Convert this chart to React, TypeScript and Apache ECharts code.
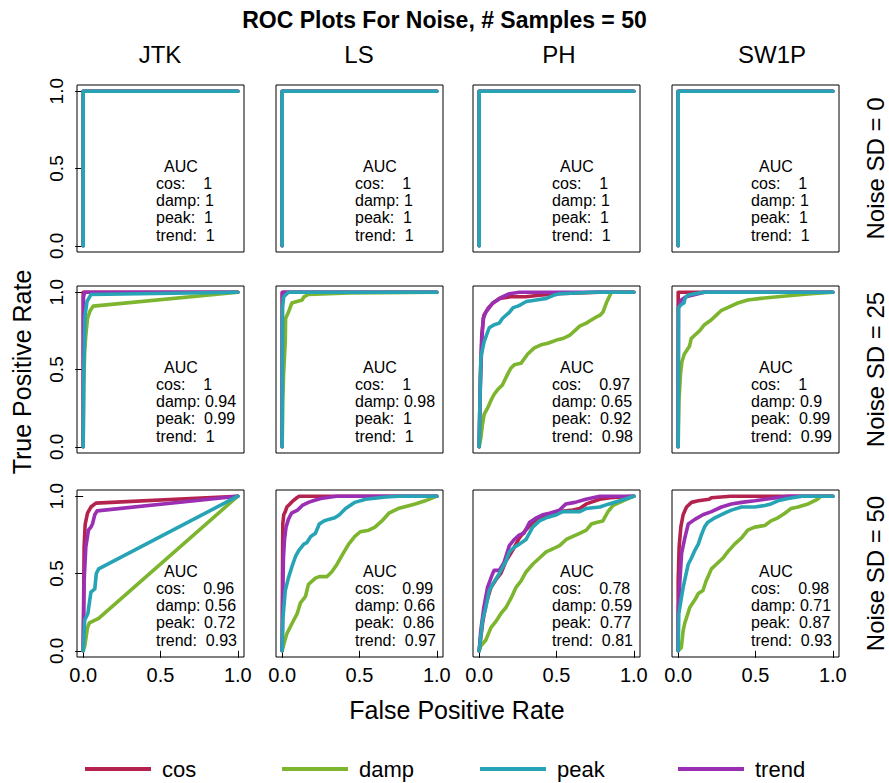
import React, { useEffect, useRef } from "react";
import * as echarts from "echarts";

// ---------- categories / labels ----------
const METHODS = ["JTK", "LS", "PH", "SW1P"];
const NOISE_SD = [0, 25, 50];
const CURVE_NAMES = ["cos", "damp", "peak", "trend"];
const TICK_VALUES = [0, 0.5, 1];

// ---------- AUC values: [method][cos, damp, peak, trend] ----------
const AUC_SD0 = [
  [1, 1, 1, 1],
  [1, 1, 1, 1],
  [1, 1, 1, 1],
  [1, 1, 1, 1],
];
const AUC_SD25 = [
  [1, 0.94, 0.99, 1],
  [1, 0.98, 1, 1],
  [0.97, 0.65, 0.92, 0.98],
  [1, 0.9, 0.99, 0.99],
];
const AUC_SD50 = [
  [0.96, 0.56, 0.72, 0.93],
  [0.99, 0.66, 0.86, 0.97],
  [0.78, 0.59, 0.77, 0.81],
  [0.98, 0.71, 0.87, 0.93],
];

// ---------- ROC curves [FPR, TPR] ----------
const PERFECT_ROC = [[0, 0], [0, 1], [1, 1]];

// Noise SD = 25
const JTK25_COS = [[0, 0], [0, 1], [1, 1]];
const JTK25_DAMP = [[0, 0], [0.003, 0.4], [0.01, 0.62], [0.017, 0.72], [0.028, 0.83], [0.045, 0.88], [0.065, 0.91], [1, 1]];
const JTK25_PEAK = [[0, 0], [0.004, 0.5], [0.012, 0.85], [0.025, 0.94], [0.05, 0.985], [1, 1]];
const JTK25_TREND = [[0, 0], [0.002, 0.97], [0.01, 1], [1, 1]];

const LS25_COS = [[0, 0], [0, 1], [1, 1]];
const LS25_DAMP = [[0, 0], [0.004, 0.3], [0.009, 0.47], [0.02, 0.68], [0.022, 0.83], [0.04, 0.87], [0.062, 0.93], [0.095, 0.94], [0.13, 0.95], [0.14, 0.97], [0.17, 0.985], [0.43, 0.995], [1, 1]];
const LS25_PEAK = [[0, 0], [0.002, 0.9], [0.01, 0.97], [0.04, 1], [1, 1]];
const LS25_TREND = [[0, 0], [0.001, 0.99], [0.005, 1], [1, 1]];

const PH25_COS = [[0, 0], [0.008, 0.47], [0.017, 0.73], [0.03, 0.85], [0.06, 0.9], [0.09, 0.93], [0.13, 0.96], [0.2, 0.97], [0.3, 0.97], [0.39, 0.98], [0.5, 0.99], [0.78, 1], [1, 1]];
const PH25_DAMP = [[0, 0], [0.004, 0.02], [0.011, 0.06], [0.022, 0.15], [0.032, 0.21], [0.054, 0.25], [0.076, 0.3], [0.097, 0.34], [0.12, 0.37], [0.15, 0.4], [0.184, 0.47], [0.206, 0.51], [0.227, 0.53], [0.27, 0.54], [0.314, 0.6], [0.335, 0.62], [0.357, 0.64], [0.4, 0.66], [0.444, 0.67], [0.5, 0.69], [0.54, 0.7], [0.584, 0.72], [0.617, 0.75], [0.65, 0.78], [0.693, 0.8], [0.725, 0.82], [0.758, 0.84], [0.78, 0.85], [0.8, 0.87], [0.822, 0.93], [0.855, 1], [1, 1]];
const PH25_PEAK = [[0, 0], [0.004, 0.25], [0.011, 0.58], [0.032, 0.68], [0.065, 0.77], [0.097, 0.79], [0.13, 0.8], [0.15, 0.83], [0.195, 0.87], [0.22, 0.9], [0.25, 0.91], [0.27, 0.92], [0.305, 0.94], [0.37, 0.95], [0.435, 0.96], [0.48, 0.98], [0.52, 0.99], [0.74, 1], [1, 1]];
const PH25_TREND = [[0, 0], [0.004, 0.25], [0.01, 0.47], [0.017, 0.68], [0.026, 0.83], [0.043, 0.87], [0.065, 0.9], [0.087, 0.93], [0.12, 0.95], [0.15, 0.97], [0.195, 0.99], [0.26, 1], [1, 1]];

const SW25_COS = [[0, 0], [0, 1], [1, 1]];
const SW25_DAMP = [[0, 0], [0.005, 0.3], [0.015, 0.47], [0.024, 0.55], [0.04, 0.6], [0.073, 0.65], [0.084, 0.7], [0.105, 0.72], [0.138, 0.75], [0.17, 0.79], [0.213, 0.82], [0.245, 0.85], [0.277, 0.88], [0.32, 0.9], [0.385, 0.93], [0.45, 0.95], [0.535, 0.96], [0.643, 0.97], [0.75, 0.98], [0.858, 0.99], [1, 1]];
const SW25_PEAK = [[0, 0], [0.002, 0.9], [0.02, 0.92], [0.037, 0.93], [0.045, 0.96], [0.062, 0.98], [0.105, 0.99], [0.17, 1], [1, 1]];
const SW25_TREND = [[0, 0], [0.002, 0.9], [0.02, 0.95], [0.05, 0.97], [0.17, 1], [1, 1]];

// Noise SD = 50
const JTK50_COS = [[0, 0], [0.006, 0.67], [0.013, 0.82], [0.028, 0.89], [0.05, 0.93], [0.082, 0.955], [1, 1]];
const JTK50_DAMP = [[0, 0], [0.01, 0.03], [0.028, 0.15], [0.04, 0.18], [0.08, 0.2], [0.1, 0.21], [1, 1]];
const JTK50_PEAK = [[0, 0], [0.01, 0.2], [0.03, 0.24], [0.05, 0.38], [0.075, 0.4], [0.085, 0.5], [0.1, 0.53], [1, 1]];
const JTK50_TREND = [[0, 0], [0.006, 0.45], [0.017, 0.67], [0.034, 0.78], [0.05, 0.8], [0.06, 0.82], [0.075, 0.88], [0.09, 0.905], [1, 1]];

const LS50_COS = [[0, 0], [0.002, 0.5], [0.004, 0.82], [0.01, 0.88], [0.02, 0.9], [0.03, 0.93], [0.05, 0.95], [0.07, 0.97], [0.095, 0.99], [0.11, 1], [1, 1]];
const LS50_DAMP = [[0, 0], [0.01, 0.04], [0.03, 0.11], [0.065, 0.18], [0.097, 0.24], [0.118, 0.31], [0.15, 0.35], [0.17, 0.43], [0.215, 0.47], [0.24, 0.48], [0.29, 0.48], [0.32, 0.51], [0.355, 0.56], [0.4, 0.64], [0.43, 0.69], [0.47, 0.74], [0.505, 0.77], [0.56, 0.78], [0.6, 0.8], [0.645, 0.84], [0.69, 0.89], [0.75, 0.92], [0.86, 0.95], [0.925, 0.97], [1, 1]];
const LS50_PEAK = [[0, 0], [0.004, 0.2], [0.02, 0.39], [0.04, 0.47], [0.065, 0.55], [0.086, 0.61], [0.108, 0.65], [0.14, 0.69], [0.16, 0.7], [0.185, 0.74], [0.215, 0.76], [0.24, 0.82], [0.27, 0.84], [0.3, 0.85], [0.34, 0.86], [0.37, 0.88], [0.41, 0.92], [0.47, 0.96], [0.54, 0.98], [0.67, 0.995], [0.75, 1], [1, 1]];
const LS50_TREND = [[0, 0], [0.003, 0.3], [0.008, 0.6], [0.015, 0.72], [0.025, 0.8], [0.04, 0.85], [0.06, 0.89], [0.1, 0.91], [0.13, 0.94], [0.17, 0.96], [0.2, 0.97], [0.25, 0.985], [0.35, 1], [1, 1]];

const PH50_COS = [[0, 0], [0.022, 0.18], [0.043, 0.3], [0.076, 0.41], [0.108, 0.46], [0.14, 0.5], [0.173, 0.58], [0.216, 0.65], [0.26, 0.73], [0.3, 0.78], [0.346, 0.83], [0.41, 0.87], [0.476, 0.89], [0.52, 0.9], [0.606, 0.91], [0.65, 0.92], [0.693, 0.95], [0.78, 0.98], [0.848, 0.99], [1, 1]];
const PH50_DAMP = [[0, 0], [0.01, 0.03], [0.043, 0.07], [0.076, 0.15], [0.108, 0.19], [0.14, 0.24], [0.173, 0.28], [0.206, 0.34], [0.238, 0.41], [0.27, 0.45], [0.303, 0.51], [0.346, 0.56], [0.39, 0.6], [0.433, 0.64], [0.476, 0.66], [0.52, 0.68], [0.563, 0.72], [0.606, 0.74], [0.65, 0.76], [0.693, 0.78], [0.725, 0.82], [0.758, 0.83], [0.8, 0.84], [0.833, 0.9], [0.866, 0.94], [0.93, 0.97], [1, 1]];
const PH50_PEAK = [[0, 0], [0.022, 0.2], [0.043, 0.28], [0.065, 0.39], [0.087, 0.43], [0.13, 0.5], [0.173, 0.58], [0.195, 0.64], [0.227, 0.67], [0.26, 0.69], [0.303, 0.72], [0.346, 0.8], [0.39, 0.84], [0.433, 0.86], [0.5, 0.88], [0.54, 0.9], [0.65, 0.9], [0.69, 0.92], [0.78, 0.93], [0.84, 0.95], [0.91, 0.97], [1, 1]];
const PH50_TREND = [[0, 0], [0.01, 0.13], [0.03, 0.28], [0.054, 0.41], [0.087, 0.5], [0.097, 0.52], [0.13, 0.52], [0.16, 0.57], [0.195, 0.68], [0.227, 0.72], [0.26, 0.75], [0.29, 0.76], [0.325, 0.83], [0.37, 0.86], [0.41, 0.88], [0.455, 0.89], [0.52, 0.91], [0.56, 0.95], [0.62, 0.96], [0.69, 0.98], [0.78, 1], [1, 1]];

const SW50_COS = [[0, 0], [0, 0.45], [0.006, 0.67], [0.017, 0.8], [0.032, 0.88], [0.054, 0.93], [0.086, 0.96], [0.13, 0.97], [0.2, 0.98], [0.215, 0.99], [0.34, 1], [1, 1]];
const SW50_DAMP = [[0, 0], [0.02, 0.02], [0.032, 0.13], [0.043, 0.18], [0.075, 0.28], [0.108, 0.33], [0.13, 0.37], [0.16, 0.39], [0.18, 0.45], [0.215, 0.53], [0.247, 0.56], [0.29, 0.6], [0.32, 0.64], [0.365, 0.69], [0.41, 0.73], [0.45, 0.78], [0.495, 0.8], [0.56, 0.81], [0.6, 0.84], [0.645, 0.86], [0.69, 0.89], [0.73, 0.92], [0.775, 0.93], [0.84, 0.95], [0.9, 0.98], [0.925, 1], [1, 1]];
const SW50_PEAK = [[0, 0], [0.004, 0.24], [0.022, 0.35], [0.032, 0.41], [0.065, 0.56], [0.086, 0.6], [0.108, 0.65], [0.13, 0.69], [0.15, 0.75], [0.17, 0.8], [0.19, 0.83], [0.237, 0.86], [0.3, 0.89], [0.344, 0.91], [0.41, 0.93], [0.495, 0.93], [0.56, 0.94], [0.6, 0.95], [0.645, 0.97], [0.71, 0.985], [0.8, 1], [1, 1]];
const SW50_TREND = [[0, 0], [0, 0.24], [0.011, 0.45], [0.022, 0.63], [0.043, 0.73], [0.065, 0.82], [0.108, 0.85], [0.16, 0.88], [0.215, 0.9], [0.28, 0.93], [0.344, 0.95], [0.41, 0.96], [0.495, 0.97], [0.6, 0.985], [0.71, 1], [1, 1]];

// [row][method] -> [cos, damp, peak, trend]
const ROC_CURVES = [
  [
    [PERFECT_ROC, PERFECT_ROC, PERFECT_ROC, PERFECT_ROC],
    [PERFECT_ROC, PERFECT_ROC, PERFECT_ROC, PERFECT_ROC],
    [PERFECT_ROC, PERFECT_ROC, PERFECT_ROC, PERFECT_ROC],
    [PERFECT_ROC, PERFECT_ROC, PERFECT_ROC, PERFECT_ROC],
  ],
  [
    [JTK25_COS, JTK25_DAMP, JTK25_PEAK, JTK25_TREND],
    [LS25_COS, LS25_DAMP, LS25_PEAK, LS25_TREND],
    [PH25_COS, PH25_DAMP, PH25_PEAK, PH25_TREND],
    [SW25_COS, SW25_DAMP, SW25_PEAK, SW25_TREND],
  ],
  [
    [JTK50_COS, JTK50_DAMP, JTK50_PEAK, JTK50_TREND],
    [LS50_COS, LS50_DAMP, LS50_PEAK, LS50_TREND],
    [PH50_COS, PH50_DAMP, PH50_PEAK, PH50_TREND],
    [SW50_COS, SW50_DAMP, SW50_PEAK, SW50_TREND],
  ],
];
const AUC_TABLE = [AUC_SD0, AUC_SD25, AUC_SD50];

// ---------- styles / layout ----------
const COLORS: Record<string, string> = {
  cos: "#B4234E",
  damp: "#7DB52F",
  peak: "#26A4B6",
  trend: "#9B2FB4",
};
const NBSP = "\u00A0";
const AUC_PREFIX: Record<string, string> = {
  cos: "cos:" + NBSP.repeat(4),
  damp: "damp:" + NBSP,
  peak: "peak:" + NBSP.repeat(2),
  trend: "trend:" + NBSP.repeat(2),
};
const DRAW_ORDER = ["cos", "damp", "trend", "peak"];
const FONT = "'Liberation Sans', Arial, Helvetica, sans-serif";
const COL_LEFT = [77, 276, 473, 672];
const ROW_TOP = [85, 286, 490];
const BOX_W = 167;
const BOX_H = 167;
const HEADER_X = [160, 359, 559, 772];
const LEGEND_LEFT = [85, 282, 480, 678];

export default function App() {
  const ref = useRef<HTMLDivElement>(null);

  useEffect(() => {
    if (!ref.current) return;
    const chart = echarts.init(ref.current, undefined, { renderer: "svg" });

    const grid: any[] = [];
    const xAxis: any[] = [];
    const yAxis: any[] = [];
    const series: any[] = [];
    const graphic: any[] = [];

    const txt = (text: string, x: number, y: number, size: number, align = "center", rotation = 0, weight = "normal") => ({
      type: "text",
      x,
      y,
      rotation,
      silent: true,
      style: {
        text,
        fontSize: size,
        fontFamily: FONT,
        fontWeight: weight,
        fill: "#000",
        align,
        verticalAlign: "middle",
        textAlign: align,
        textVerticalAlign: "middle",
      },
    });

    NOISE_SD.forEach((sd, r) => {
      METHODS.forEach((m, c) => {
        const idx = r * METHODS.length + c;
        const L = COL_LEFT[c];
        const T = ROW_TOP[r];
        const isBottom = r === NOISE_SD.length - 1;
        const isLeft = c === 0;
        grid.push({
          left: L,
          top: T,
          width: BOX_W,
          height: BOX_H,
          show: true,
          borderColor: "#000",
          borderWidth: 1,
          backgroundColor: "transparent",
          containLabel: false,
          outerBoundsMode: "none",
        });
        xAxis.push({
          gridIndex: idx,
          type: "value",
          min: -0.04,
          max: 1.04,
          splitLine: { show: false },
          axisLine: { show: false },
          axisTick: {
            show: isBottom,
            length: 7,
            customValues: TICK_VALUES,
            lineStyle: { color: "#000", width: 1 },
          },
          axisLabel: {
            show: isBottom,
            customValues: TICK_VALUES,
            formatter: (v: number) => v.toFixed(1),
            margin: 8,
            fontSize: 20,
            fontFamily: FONT,
            color: "#000",
          },
        });
        yAxis.push({
          gridIndex: idx,
          type: "value",
          min: -0.04,
          max: 1.04,
          splitLine: { show: false },
          axisLine: { show: false },
          axisTick: {
            show: isLeft,
            length: 8,
            customValues: TICK_VALUES,
            lineStyle: { color: "#000", width: 1 },
          },
          axisLabel: {
            show: isLeft,
            customValues: TICK_VALUES,
            formatter: (v: number) => v.toFixed(1),
            rotate: 90,
            margin: 11,
            fontSize: 19,
            fontFamily: FONT,
            color: "#000",
          },
        });
        DRAW_ORDER.forEach((name) => {
          const k = CURVE_NAMES.indexOf(name);
          series.push({
            type: "line",
            name,
            xAxisIndex: idx,
            yAxisIndex: idx,
            data: ROC_CURVES[r][c][k],
            showSymbol: false,
            symbol: "none",
            smooth: false,
            silent: true,
            lineStyle: { color: COLORS[name], width: 3.6, cap: "round", join: "round" },
            itemStyle: { color: COLORS[name] },
          });
        });

        // AUC block
        const aucs = AUC_TABLE[r][c];
        graphic.push(txt("AUC", L + 104, T + 81.3, 16));
        const baselines = [T + 104, T + 121, T + 138.5, T + 156];
        CURVE_NAMES.forEach((name, k) => {
          graphic.push(txt(AUC_PREFIX[name] + String(aucs[k]), L + 79, baselines[k] - 5.6, 16, "left"));
        });
      });
    });

    // column headers
    METHODS.forEach((m, c) => {
      graphic.push(txt(m, HEADER_X[c], 54, 24));
    });
    // row labels
    NOISE_SD.forEach((sd, r) => {
      graphic.push(txt("Noise SD = " + sd, 875, ROW_TOP[r] + BOX_H / 2, 24, "center", Math.PI / 2));
    });
    // axis titles
    graphic.push(txt("True Positive Rate", 22, 372, 25, "center", Math.PI / 2));
    graphic.push(txt("False Positive Rate", 457, 710, 25));

    const legend = CURVE_NAMES.map((name, i) => ({
      data: [name],
      left: LEGEND_LEFT[i],
      top: 758,
      padding: 0,
      icon: "rect",
      itemWidth: 66,
      itemHeight: 4,
      selectedMode: false,
      textStyle: { fontSize: 22, fontFamily: FONT, color: "#000", padding: [0, 0, 0, 6] },
    }));

    chart.setOption({
      animation: false,
      backgroundColor: "#ffffff",
      title: {
        text: "ROC Plots For Noise, # Samples = 50",
        left: "center",
        top: 3,
        textStyle: { fontSize: 23, fontWeight: "bold", fontFamily: FONT, color: "#000" },
      },
      legend,
      grid,
      xAxis,
      yAxis,
      series,
      graphic,
    });

    return () => chart.dispose();
  }, []);

  return (
    <div
      ref={ref}
      style={{ position: "fixed", left: 0, top: 0, width: 889, height: 783, background: "#fff" }}
    />
  );
}
